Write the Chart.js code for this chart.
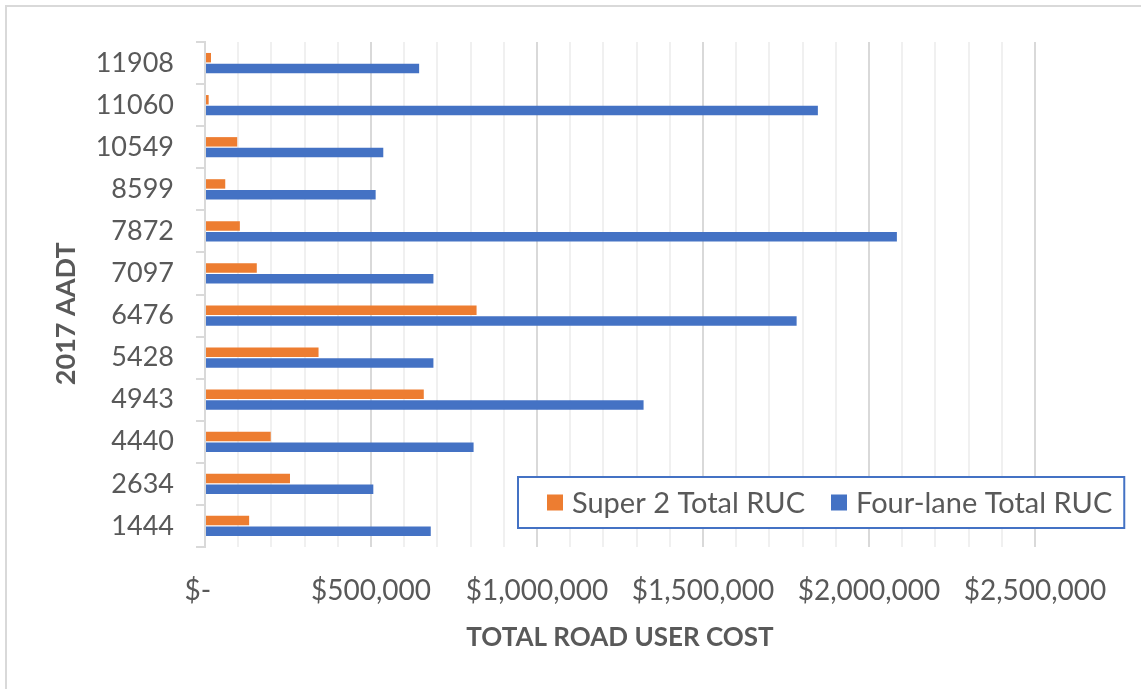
<!DOCTYPE html>
<html>
<head>
<meta charset="utf-8">
<script src="https://cdn.jsdelivr.net/npm/chart.js@4/dist/chart.umd.min.js"></script>
<style>
  html, body { margin: 0; padding: 0; background: #fff; }
  canvas { display: block; }
</style>
</head>
<body>
<canvas id="ruc-chart" width="1141" height="689"></canvas>
<script>
// 2017 AADT categories, top to bottom
var aadt = ['11908', '11060', '10549', '8599', '7872', '7097', '6476', '5428', '4943', '4440', '2634', '1444'];
var super2Ruc = [18000, 11000, 97000, 61000, 105000, 156000, 818000, 342000, 659000, 198000, 256000, 133000];
var fourLaneRuc = [645000, 1846000, 537000, 514000, 2084000, 688000, 1782000, 688000, 1321000, 809000, 507000, 680000];
var xMax = 2500000;
var xStep = 100000;
var xLabelStep = 500000;

var grey = '#595959';
var orange = '#ed7d31';
var blue = '#4472c4';

function money(v) {
    if (v === 0) return '$-  ';
    return '$' + v.toLocaleString('en-US');
}

// frame around the whole chart (only top/left show in the picture)
var frame = {
    id: 'frame',
    beforeDraw: function (chart) {
        var c = chart.ctx;
        c.save();
        c.fillStyle = '#fff';
        c.fillRect(0, 0, chart.width, chart.height);
        c.strokeStyle = '#d9d9d9';
        c.lineWidth = 2;
        c.strokeRect(6, 6, chart.width + 20, chart.height + 20);
        c.restore();
    }
};

// boxed legend sitting inside the plot, like the Excel one
var boxLegend = {
    id: 'boxLegend',
    afterDraw: function (chart) {
        var c = chart.ctx;
        var left = 518, top = 477, h = 51;
        c.save();
        c.font = '29px Lato';
        var x = left + 29;
        var items = chart.data.datasets.map(function (ds) {
            var w = c.measureText(ds.label).width;
            var it = { label: ds.label, color: ds.backgroundColor, x: x };
            x += 16 + 9 + w + 26;
            return it;
        });
        var right = x - 26 + 12;
        c.fillStyle = '#fff';
        c.fillRect(left, top, right - left, h);
        c.strokeStyle = blue;
        c.lineWidth = 2;
        c.strokeRect(left, top, right - left, h);
        var cy = top + h / 2;
        items.forEach(function (it) {
            c.fillStyle = it.color;
            c.fillRect(it.x, cy - 8, 16, 16);
            c.fillStyle = grey;
            c.textBaseline = 'middle';
            c.textAlign = 'left';
            c.fillText(it.label, it.x + 25, cy + 1);
        });
        c.restore();
    }
};

var ctx = document.getElementById('ruc-chart');

var chart = new Chart(ctx, {
    type: 'bar',
    data: {
        labels: aadt,
        datasets: [{
            label: 'Super 2 Total RUC',
            data: super2Ruc,
            backgroundColor: orange,
            categoryPercentage: 0.51,
            barPercentage: 0.88
        },
        {
            label: 'Four-lane Total RUC',
            data: fourLaneRuc,
            backgroundColor: blue,
            categoryPercentage: 0.51,
            barPercentage: 0.88
        }]
    },
    options: {
        indexAxis: 'y',
        responsive: false,
        animation: false,
        devicePixelRatio: 1,
        layout: {
            padding: { left: 0, top: 42, right: 106, bottom: 0 }
        },
        plugins: {
            legend: { display: false },
            tooltip: { enabled: false }
        },
        scales: {
            x: {
                min: 0,
                max: xMax,
                afterFit: function (s) { s.height = 142; },
                border: { display: false },
                grid: {
                    drawTicks: false,
                    lineWidth: 2,
                    color: function (c) {
                        return c.tick && c.tick.value % xLabelStep === 0 ? '#d9d9d9' : '#f0f0f0';
                    }
                },
                ticks: {
                    stepSize: xStep,
                    autoSkip: false,
                    maxRotation: 0,
                    padding: 27,
                    color: grey,
                    font: { family: 'Lato', size: 28 },
                    callback: function (v) {
                        return v % xLabelStep === 0 ? money(v) : '';
                    }
                },
                title: {
                    display: true,
                    text: 'TOTAL ROAD USER COST',
                    color: grey,
                    font: { family: 'Lato', size: 26, weight: 'bold' },
                    padding: { top: 0, bottom: 36 }
                }
            },
            y: {
                afterFit: function (s) { s.width = 205; },
                border: { display: true, color: '#d9d9d9', width: 2 },
                grid: {
                    drawOnChartArea: false,
                    drawTicks: true,
                    tickLength: 9,
                    lineWidth: 2,
                    color: '#d9d9d9'
                },
                ticks: {
                    padding: 22,
                    color: grey,
                    font: { family: 'Lato', size: 27 }
                },
                title: {
                    display: true,
                    text: '2017 AADT\u00a0\u00a0\u00a0\u00a0\u00a0\u00a0',
                    color: grey,
                    font: { family: 'Lato', size: 27, weight: 'bold' },
                    padding: { top: 50, bottom: 0 }
                }
            }
        }
    },
    plugins: [frame, boxLegend]
});
</script>
</body>
</html>
